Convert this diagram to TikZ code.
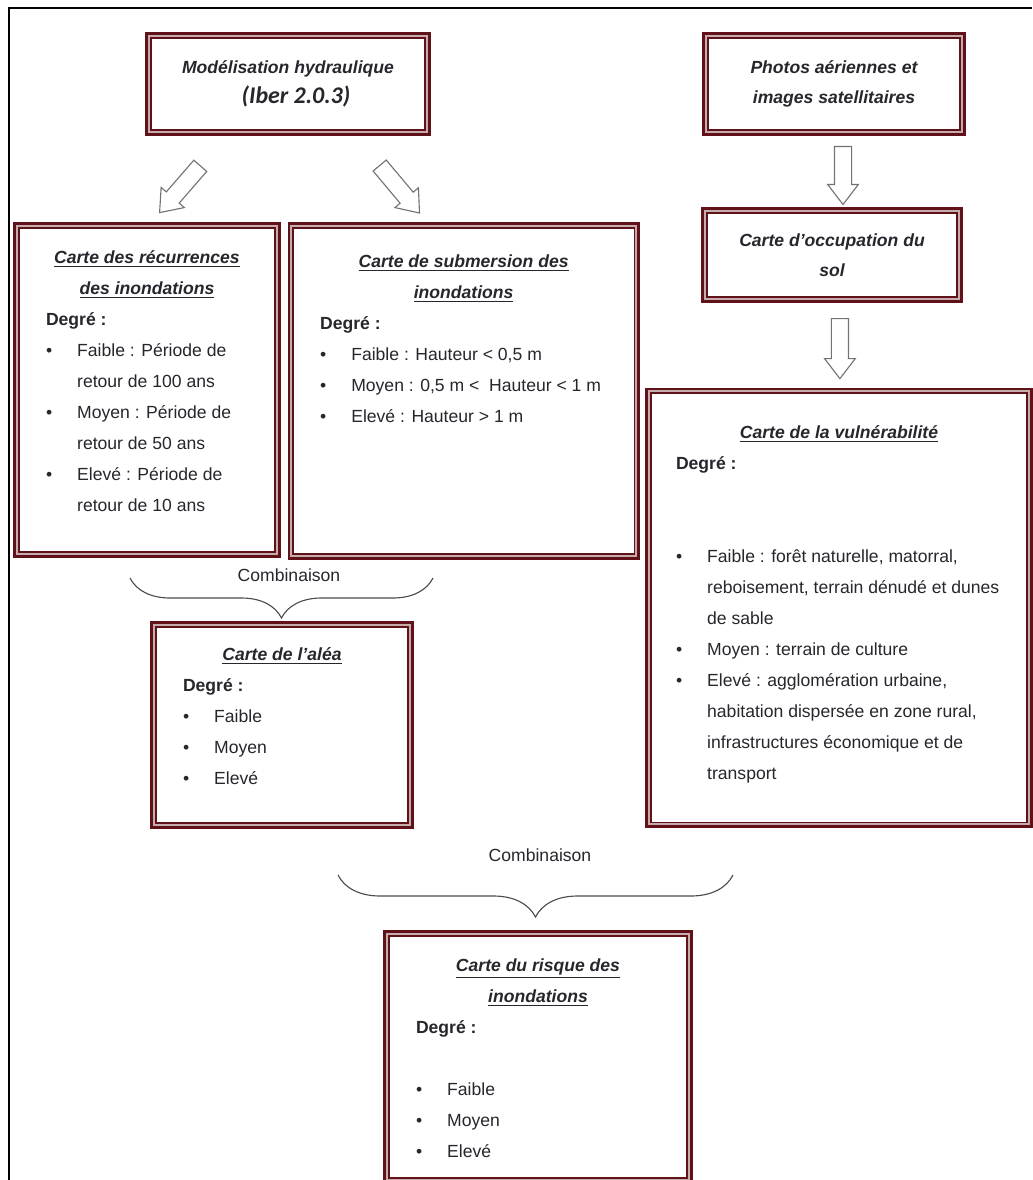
\documentclass[tikz,border=0pt]{standalone}
\usepackage{fontspec}
\setmainfont{Liberation Sans}
\newfontfamily\calibri{Carlito}
\usetikzlibrary{positioning,calc,shapes.arrows,decorations.pathreplacing}

\definecolor{bordeaux}{RGB}{96,18,24}
\definecolor{encre}{RGB}{38,38,45}

\newcommand{\titre}[1]{\underline{\textbf{\textit{#1}}}}
\newcommand{\puce}[1]{\makebox[0.78cm][l]{\textbullet}\mbox{#1}}
\newcommand{\suite}[1]{\hspace*{0.78cm}\mbox{#1}}
\newcommand{\bloc}[3]{\begin{minipage}[c][#2][t]{#1}#3\end{minipage}}

\begin{document}
\begin{tikzpicture}[thick,
    cadre/.style={draw=bordeaux,line width=3.6pt,fill=white,text=encre,
        inner xsep=0.75cm,inner ysep=0.6cm,font=\fontsize{12.5}{22}\selectfont},
    entete/.style={cadre,align=center,inner sep=0.3cm,
        font=\bfseries\itshape\fontsize{12.5}{21}\selectfont},
    fleche/.style={single arrow,draw=black!55,line width=0.8pt,fill=white,
        minimum height=1.55cm,minimum width=0pt,inner xsep=0pt,inner ysep=0.2cm,
        single arrow head extend=0.17cm,single arrow tip angle=75},
    accolade/.style={decorate,decoration={brace,mirror,amplitude=#1},
        draw=black!70,line width=0.8pt},
    comb/.style={text=encre,font=\fontsize{12.5}{15}\selectfont}]

    \useasboundingbox (0,0) rectangle (25.8,-29.5);
    \draw[black,line width=1.2pt] (0.225,-29.5) |- (25.8,-0.2);

    % Define sources
    \node[entete,minimum width=7cm,minimum height=2.45cm] (hydro) at (7.2,-2.1)
        {Modélisation hydraulique\\
         \hspace*{0.4cm}{\calibri\fontsize{17}{20}\selectfont (Iber 2.0.3)}};
    \node[entete,minimum width=6.45cm,minimum height=2.45cm] (photos) at (20.85,-2.1)
        {Photos aériennes et\\ images satellitaires};
    \node[entete,minimum width=6.4cm,minimum height=2.25cm] (occupation) at (20.8,-6.375)
        {Carte d'occupation du\\ sol};

    % Define maps
    \node[cadre] (recurrences) at (3.675,-9.75) {\bloc{5.05cm}{7.05cm}{%
        \vspace*{0.05cm}
        \centering\titre{Carte des récurrences}\\ \titre{des inondations}\par
        \raggedright\textbf{Degré :}\\
        \puce{Faible : Période de}\\ \suite{retour de 100 ans}\\
        \puce{Moyen : Période de}\\ \suite{retour de 50 ans}\\
        \puce{Elevé : Période de}\\ \suite{retour de 10 ans}}};
    \node[cadre] (submersion) at (11.59,-9.775) {\bloc{7.175cm}{7.1cm}{%
        \vspace*{0.15cm}
        \centering\titre{Carte de submersion des}\\ \titre{inondations}\par
        \raggedright\textbf{Degré :}\\
        \puce{Faible : Hauteur < 0,5 m}\\
        \puce{Moyen : 0,5 m <\ \ Hauteur < 1 m}\\
        \puce{Elevé : Hauteur > 1 m}}};
    \node[cadre,inner xsep=0.7cm] (vulnerabilite) at (20.975,-15.19) {\bloc{8.15cm}{9.675cm}{%
        \vspace*{0.3cm}
        \centering\titre{Carte de la vulnérabilité}\par
        \raggedright\textbf{Degré :}\\ \mbox{}\\ \mbox{}\\
        \puce{Faible : forêt naturelle, matorral,}\\
        \suite{reboisement, terrain dénudé et dunes}\\
        \suite{de sable}\\
        \puce{Moyen : terrain de culture}\\
        \puce{Elevé : agglomération urbaine,}\\
        \suite{habitation dispersée en zone rural,}\\
        \suite{infrastructures économique et de}\\
        \suite{transport}}};
    \node[cadre] (alea) at (7.05,-18.125) {\bloc{4.95cm}{3.85cm}{%
        \centering\titre{Carte de l'aléa}\par
        \raggedright\textbf{Degré :}\\
        \puce{Faible}\\ \puce{Moyen}\\ \puce{Elevé}}};
    \node[cadre] (risque) at (13.45,-26.425) {\bloc{6.1cm}{5.0cm}{%
        \vspace*{0.05cm}
        \centering\titre{Carte du risque des}\\ \titre{inondations}\par
        \raggedright\textbf{Degré :}\\ \mbox{}\\
        \puce{Faible}\\ \puce{Moyen}\\ \puce{Elevé}}};

    % inner frames
    \foreach \n in {hydro,photos,occupation,recurrences,submersion,vulnerabilite,alea,risque}{
        \draw[bordeaux!35,line width=1.2pt] ([shift={(2.5pt,-2.5pt)}]\n.north west)
            rectangle ([shift={(-2.5pt,2.5pt)}]\n.south east);
        \draw[bordeaux,line width=0.9pt] ([shift={(3.9pt,-3.9pt)}]\n.north west)
            rectangle ([shift={(-3.9pt,3.9pt)}]\n.south east);
    }

    % Define arrows
    \node[fleche,rotate=229] (f1) at (4.59,-4.625) {};
    \node[fleche,rotate=-50] (f2) at (9.9,-4.625) {};
    \node[fleche,rotate=-90,minimum height=1.45cm] (f3)
        at ($(photos.south)!0.5!(occupation.north)+(0.25,0.04)$) {};
    \node[fleche,rotate=-90,minimum height=1.5cm] (f4)
        at ($(occupation.south)!0.5!(vulnerabilite.north)+(0.11,0.05)$) {};

    % combinations
    \coordinate (g1) at (3.25,-14.45);
    \coordinate (d1) at (10.825,-14.45);
    \draw[accolade=1cm] (g1) -- (d1);
    \node[comb] (comb1) at (7.225,-14.375) {Combinaison};

    \coordinate (g2) at (8.45,-21.875);
    \coordinate (d2) at (18.325,-21.875);
    \draw[accolade=1.05cm] (g2) -- (d2);
    \node[comb] (comb2) at (13.5,-21.375) {Combinaison};

\end{tikzpicture}
\end{document}
